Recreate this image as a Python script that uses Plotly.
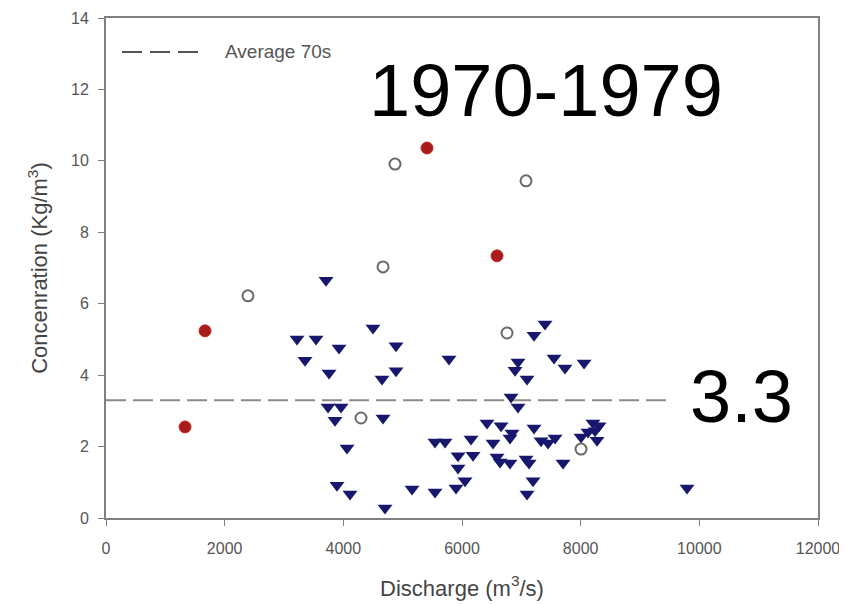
import plotly.graph_objects as go

# Triangles (main set)
tri_x = [3708, 4500, 3219, 3540, 3927, 4888, 3354, 3759, 4888, 4652, 5781, 3742, 3961, 3860,
         4669, 4062, 3893, 4113, 4702, 5158, 5545, 5545, 5714, 6152, 5933, 6186, 5933, 6051,
         5899, 6422, 6523, 6590, 7399, 7214, 6944, 6894, 7096, 7551, 7736, 8057, 6826, 6944,
         6658, 6843, 6809, 7214, 7332, 7450, 7568, 6641, 6809, 7079, 7130, 7703, 7197, 7096,
         8006, 8208, 8310, 8242, 8276, 8124, 9793]
tri_y = [6.66, 5.32, 5.01, 5.01, 4.76, 4.82, 4.42, 4.06, 4.12, 3.89, 4.45, 3.11, 3.11, 2.74,
         2.80, 1.96, 0.92, 0.67, 0.28, 0.81, 0.73, 2.13, 2.13, 2.21, 1.74, 1.76, 1.40, 1.04,
         0.84, 2.66, 2.10, 1.71, 5.43, 5.12, 4.37, 4.14, 3.89, 4.48, 4.20, 4.34, 3.39, 3.11,
         2.58, 2.38, 2.24, 2.52, 2.16, 2.10, 2.24, 1.57, 1.54, 1.65, 1.54, 1.54, 1.04, 0.67,
         2.27, 2.66, 2.58, 2.44, 2.18, 2.41, 0.84]

# Red filled circles
red_x = [1332, 1669, 5410, 6590]
red_y = [2.55, 5.24, 10.36, 7.34]

# Open circles
open_x = [2393, 4871, 4669, 7079, 4298, 6759, 8006]
open_y = [6.22, 9.91, 7.03, 9.44, 2.80, 5.18, 1.93]

# Average line
avg_value = 3.3
avg_x = [0, 9500]
avg_y = [avg_value, avg_value]

x_ticks = [0, 2000, 4000, 6000, 8000, 10000, 12000]
x_tick_text = ["0", "2000", "4000", "6000", "8000", "10000", "12000"]
y_ticks = [0, 2, 4, 6, 8, 10, 12, 14]
y_tick_text = ["0", "2", "4", "6", "8", "10", "12", "14"]

FONT = "Arial, Liberation Sans, sans-serif"
GRAY = "#808080"
TXT = "#555555"

fig = go.Figure()
fig.add_trace(go.Scatter(x=avg_x, y=avg_y, mode="lines",
                         line=dict(color="#8a8a8a", width=2, dash="20px,7px"),
                         showlegend=False, hoverinfo="skip"))
fig.add_trace(go.Scatter(x=tri_x, y=tri_y, mode="markers",
                         marker=dict(symbol="triangle-down", size=13, color="#17176e",
                                     line=dict(width=0)),
                         showlegend=False))
fig.add_trace(go.Scatter(x=open_x, y=open_y, mode="markers",
                         marker=dict(symbol="circle", size=11, color="white",
                                     line=dict(color="#6a6a6a", width=2)),
                         showlegend=False))
fig.add_trace(go.Scatter(x=red_x, y=red_y, mode="markers",
                         marker=dict(symbol="circle", size=12, color="#a81c1c",
                                     line=dict(color="#c42a2a", width=1)),
                         showlegend=False))

# Legend drawn manually
fig.add_shape(type="line", xref="paper", yref="paper", x0=0.0225, x1=0.1292, y0=0.932, y1=0.932,
              line=dict(color="#555555", width=2, dash="20px,8px"))
fig.add_annotation(text="Average 70s", xref="paper", yref="paper", x=0.165, y=0.932,
                   xanchor="left", yanchor="middle", showarrow=False,
                   font=dict(family=FONT, size=19, color=TXT))

fig.add_annotation(text="1970-1979", x=7420, y=11.98, xanchor="center", yanchor="middle",
                   showarrow=False, font=dict(family=FONT, size=74, color="black"))
fig.add_annotation(text="3.3", x=10707, y=3.41, xanchor="center", yanchor="middle",
                   showarrow=False, font=dict(family=FONT, size=74, color="black"))

# The page body adds an 8px offset, so the figure is sized to compensate
fig.update_layout(
    width=839, height=597,
    margin=dict(l=98, r=29, t=10, b=87, autoexpand=False),
    paper_bgcolor="white", plot_bgcolor="white",
    font=dict(family=FONT, color=TXT),
    xaxis=dict(range=[0, 12000], tickvals=x_ticks, ticktext=x_tick_text, ticks="outside",
               ticklen=6, tickwidth=1, tickcolor=GRAY, showline=True, linecolor=GRAY,
               linewidth=2, mirror=True, showgrid=False, zeroline=False, automargin=False,
               ticklabelstandoff=9, tickfont=dict(size=16, color=TXT),
               title=dict(text="Discharge (m<sup>3</sup>/s)", font=dict(size=22, color="#444444"),
                          standoff=24)),
    yaxis=dict(range=[0, 14], tickvals=y_ticks, ticktext=y_tick_text, ticks="outside",
               ticklen=6, tickwidth=1, tickcolor=GRAY, showline=True, linecolor=GRAY,
               linewidth=2, mirror=True, showgrid=False, zeroline=False, automargin=False,
               ticklabelstandoff=6, tickfont=dict(size=16, color=TXT),
               title=dict(text="Concenration (Kg/m<sup>3</sup>)", font=dict(size=22, color="#444444"),
                          standoff=17)),
)

fig.write_html("out.html")
